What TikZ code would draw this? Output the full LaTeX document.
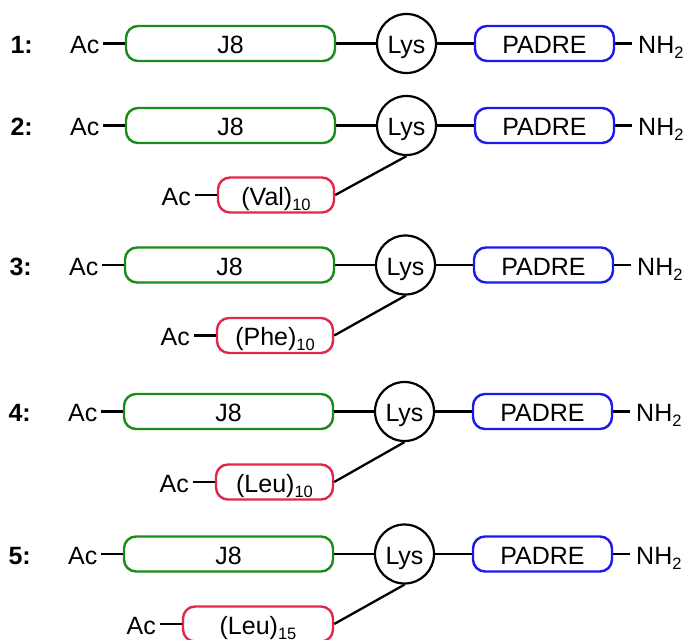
\documentclass[tikz,border=0pt]{standalone}
\usepackage{fontspec}
\setmainfont{Liberation Sans}
\definecolor{jgreen}{RGB}{26,140,26}
\definecolor{pred}{RGB}{224,40,74}
\definecolor{pblue}{RGB}{26,26,238}
% lowered subscript used in the residue counts and the amide end
\newcommand\lowsub[1]{\raisebox{-5pt}{\fontsize{16.5}{19}\selectfont #1}}
\begin{document}
\begin{tikzpicture}[x=1pt,y=-1pt,
  txt/.style={inner sep=0pt, text height=20.5pt, text depth=0pt,
    font=\fontsize{25}{29}\selectfont},
  seg/.style={rectangle, rounded corners=12pt, draw, line width=2.4pt,
    minimum height=35pt, txt},
  j8box/.style={seg, draw=jgreen, minimum width=209pt},
  padrebox/.style={seg, draw=pblue, minimum width=139pt},
  armbox/.style={seg, draw=pred},
  lysnode/.style={circle, draw, line width=2.2pt, minimum size=59pt, txt},
  bond/.style={line width=2.3pt},
  tag/.style={txt, font=\fontsize{25}{29}\selectfont\bfseries}]

\useasboundingbox (0,0) rectangle (687,639);

% main chain of each construct: Ac - J8 - Lys - PADRE - NH2
\foreach \n/\y/\dx in {1/43.5/0, 2/125.5/0, 3/265/-1, 4/411.5/-2, 5/554/-2}{
  \node[tag, anchor=east] (tag\n) at (33+\dx,\y) {\n:};
  \node[j8box] (j8\n) at (230.5+\dx,\y) {J8};
  \node[txt, anchor=east, inner xsep=3.5pt] (ac\n) at (103+\dx,\y) {Ac};
  \node[lysnode] (lys\n) at (406.5+\dx,\y) {Lys};
  \node[padrebox] (padre\n) at (544.5+\dx,\y) {PADRE};
  \node[txt, anchor=west, inner xsep=6pt] (nh\n) at (632+\dx,\y) {NH\lowsub{2}};
  \draw[bond] (ac\n.east) -- (j8\n.west);
  \draw[bond] (j8\n.east) -- (lys\n.west);
  \draw[bond] (lys\n.east) -- (padre\n.west);
  \draw[bond] (padre\n.east) -- (nh\n.west);
}

% hydrophobic arms attached to the lysine branch point
\foreach \n/\ry/\l/\r/\lab in {2/195/218/334/{(Val)\lowsub{10}},
    3/335.5/217/333/{(Phe)\lowsub{10}},
    4/482/216/333/{(Leu)\lowsub{10}},
    5/624/183/333/{(Leu)\lowsub{15}}}{
  \node[armbox, minimum width={(\r-\l)*1pt}] (arm\n) at ({(\l+\r)/2},\ry) {\lab};
  \node[txt, anchor=east, inner xsep=4pt] (armac\n) at (\l-23,\ry) {Ac};
  \draw[bond] (armac\n.east) -- (arm\n.west);
  \draw[bond] (arm\n.east) -- (lys\n.south);
}
\end{tikzpicture}
\end{document}
